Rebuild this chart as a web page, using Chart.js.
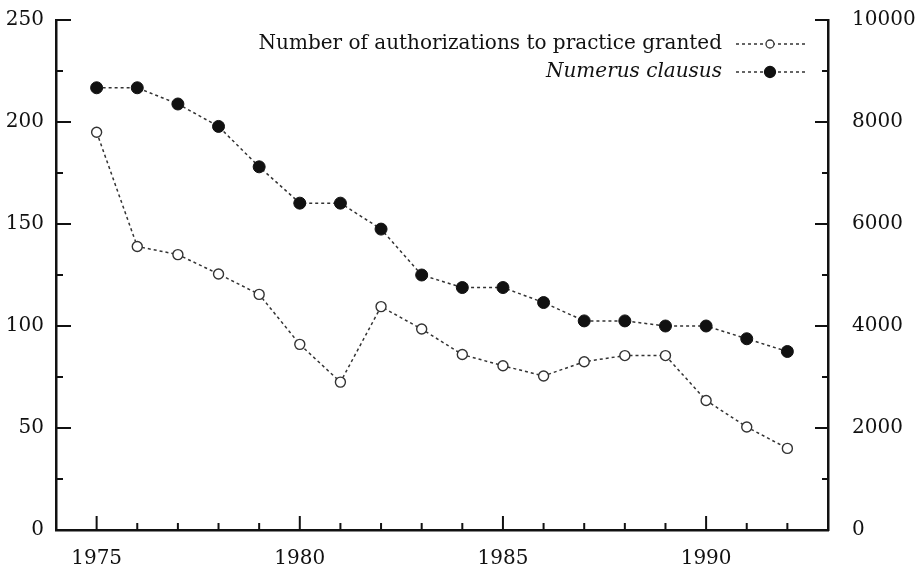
<!DOCTYPE html>
<html>
<head>
<meta charset="utf-8">
<script src="https://cdn.jsdelivr.net/npm/chart.js@4"></script>
<style>
  html, body { margin: 0; padding: 0; background: #fff; }
  canvas { display: block; }
</style>
</head>
<body>
<canvas id="chart" width="922" height="573"></canvas>
<script>
// data
const years = [1975, 1976, 1977, 1978, 1979, 1980, 1981, 1982, 1983, 1984,
               1985, 1986, 1987, 1988, 1989, 1990, 1991, 1992];
const granted = [195, 139, 135, 125.5, 115.5, 91, 72.5, 109.5, 98.5, 86,
                 80.5, 75.5, 82.5, 85.5, 85.5, 63.5, 50.5, 40];
const numerusClausus = [8671, 8671, 8353, 7913, 7121, 6409, 6409, 5900, 5000, 4754,
                        4754, 4460, 4100, 4100, 4000, 4000, 3750, 3500];
const xTickLabels = [1975, 1980, 1985, 1990];
const leftTicks = [0, 50, 100, 150, 200, 250];
const rightTicks = [0, 2000, 4000, 6000, 8000, 10000];
const seriesNames = ['Number of authorizations to practice granted', 'Numerus clausus'];

const ink = '#111';
Chart.defaults.font.family = "'DejaVu Serif', serif";
Chart.defaults.font.size = 20;
Chart.defaults.color = ink;

// ticks pointing inwards, major + minor
const insideTicks = {
    id: 'insideTicks',
    afterDraw(chart) {
        const ctx = chart.ctx;
        const area = chart.chartArea;
        const x = chart.scales.x, yl = chart.scales.y, yr = chart.scales.y2;
        ctx.save();
        ctx.strokeStyle = ink;
        ctx.lineWidth = 2;
        ctx.beginPath();
        years.forEach(function(yr0) {
            const px = x.getPixelForValue(yr0);
            const len = xTickLabels.includes(yr0) ? 14 : 7;
            ctx.moveTo(px, area.bottom);
            ctx.lineTo(px, area.bottom - len);
        });
        for (let v = 0; v <= 250; v += 25) {
            const py = yl.getPixelForValue(v);
            const len = leftTicks.includes(v) ? 15 : 7;
            ctx.moveTo(area.left, py);
            ctx.lineTo(area.left + len, py);
        }
        for (let v = 0; v <= 10000; v += 1000) {
            const py = yr.getPixelForValue(v);
            const len = rightTicks.includes(v) ? 13 : 6;
            ctx.moveTo(area.right, py);
            ctx.lineTo(area.right - len, py);
        }
        ctx.stroke();
        ctx.restore();
    }
};

// legend in the top right: text, then ----o----
const sideLegend = {
    id: 'sideLegend',
    afterDraw(chart) {
        const ctx = chart.ctx;
        const right = chart.chartArea.right;
        ctx.save();
        chart.data.datasets.forEach(function(ds, i) {
            const cy = 44 + i * 28;
            ctx.font = (i === 1 ? 'italic ' : '') + "20px 'DejaVu Serif', serif";
            ctx.fillStyle = ink;
            ctx.textAlign = 'right';
            ctx.textBaseline = 'middle';
            ctx.fillText(ds.label, right - 106, cy);
            ctx.strokeStyle = ds.borderColor;
            ctx.lineWidth = 1.5;
            ctx.setLineDash([3, 3]);
            ctx.beginPath();
            ctx.moveTo(right - 92, cy);
            ctx.lineTo(right - 22, cy);
            ctx.stroke();
            ctx.setLineDash([]);
            ctx.beginPath();
            ctx.arc(right - 58, cy, i === 1 ? 5.5 : 4, 0, Math.PI * 2);
            ctx.fillStyle = ds.pointBackgroundColor;
            ctx.fill();
            ctx.lineWidth = 1.3;
            ctx.strokeStyle = ds.pointBorderColor;
            ctx.stroke();
        });
        ctx.restore();
    }
};

// fixed axis box sizes, no extra label overhang padding
function fixBox(size) {
    return function(scale) {
        if (scale.isHorizontal()) scale.height = size; else scale.width = size;
        scale.paddingTop = 0;
        scale.paddingBottom = 0;
        scale.paddingLeft = 0;
        scale.paddingRight = 0;
    };
}

new Chart(document.getElementById('chart'), {
    type: 'line',
    data: {
        datasets: [
            {
                label: seriesNames[0],
                data: years.map((yr0, i) => ({ x: yr0, y: granted[i] })),
                yAxisID: 'y',
                borderColor: '#333',
                borderWidth: 1.5,
                borderDash: [3, 3],
                pointRadius: 5,
                pointBorderWidth: 1.4,
                pointBorderColor: '#333',
                pointBackgroundColor: '#fff',
                tension: 0
            },
            {
                label: seriesNames[1],
                data: years.map((yr0, i) => ({ x: yr0, y: numerusClausus[i] })),
                yAxisID: 'y2',
                borderColor: '#333',
                borderWidth: 1.5,
                borderDash: [3, 3],
                pointRadius: 6,
                pointBorderWidth: 1,
                pointBorderColor: '#111',
                pointBackgroundColor: '#111',
                tension: 0
            }
        ]
    },
    options: {
        responsive: false,
        animation: false,
        layout: { padding: { top: 20, left: 0, right: 0, bottom: 0 } },
        plugins: {
            legend: { display: false },
            tooltip: { enabled: false }
        },
        scales: {
            x: {
                type: 'linear',
                min: 1974,
                max: 1993,
                afterBuildTicks: function(scale) {
                    scale.ticks = xTickLabels.map(v => ({ value: v }));
                },
                afterFit: fixBox(43),
                grid: { display: false, drawTicks: false },
                border: { display: true, color: ink, width: 2.5 },
                ticks: {
                    padding: 17,
                    maxRotation: 0,
                    callback: v => String(v)
                }
            },
            y: {
                position: 'left',
                min: 0,
                max: 250,
                afterBuildTicks: function(scale) {
                    scale.ticks = leftTicks.map(v => ({ value: v }));
                },
                afterFit: fixBox(56),
                grid: { display: false, drawTicks: false },
                border: { display: true, color: ink, width: 2.5 },
                ticks: { padding: 12, callback: v => String(v) }
            },
            y2: {
                position: 'right',
                min: 0,
                max: 10000,
                afterBuildTicks: function(scale) {
                    scale.ticks = rightTicks.map(v => ({ value: v }));
                },
                afterFit: fixBox(94),
                grid: { display: false, drawTicks: false },
                border: { display: true, color: ink, width: 2.5 },
                ticks: { padding: 24, callback: v => String(v) }
            }
        }
    },
    plugins: [insideTicks, sideLegend]
});
</script>
</body>
</html>
